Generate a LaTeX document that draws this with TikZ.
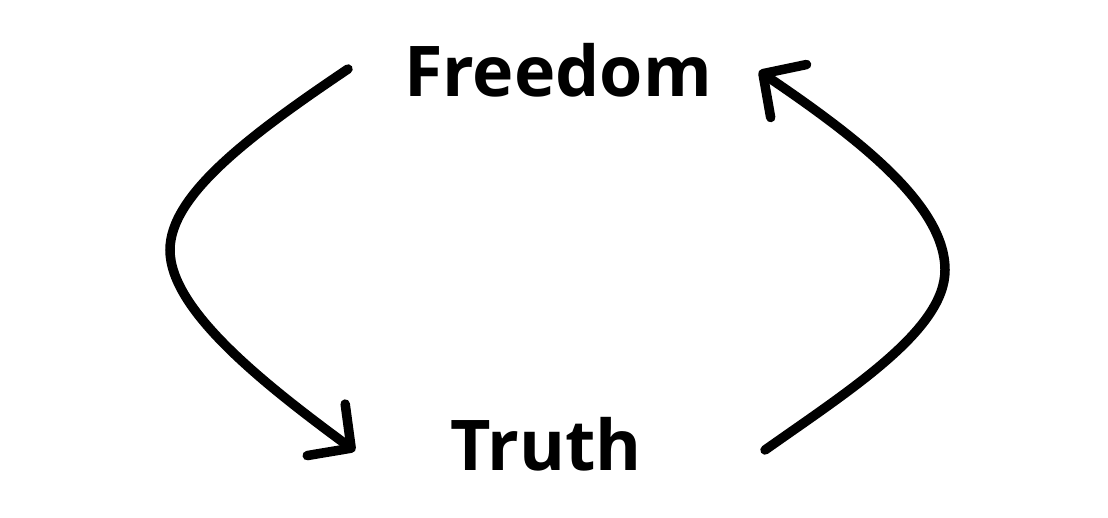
\documentclass[tikz,border=0pt]{standalone}
\usepackage{fontspec}
\setmainfont{Open Sans}
\usetikzlibrary{arrows.meta}
\begin{document}
\begin{tikzpicture}[x=1pt,y=-1pt,
  word/.style={font=\fontsize{70}{84}\selectfont\bfseries, inner sep=0pt, anchor=base},
  loop/.style={line width=9.5pt, line cap=round, -{Straight Barb[length=31pt,width=64pt,round]}}]
\useasboundingbox[fill=white] (0,0) rectangle (1108,518);
\node[word] (freedom) at (558,96.7) {Freedom};
\node[word] (truth) at (546,470) {Truth};
\coordinate (ls) at (348,69);
\coordinate (le) at (355,451);
\coordinate (rs) at (765,450);
\coordinate (re) at (759,71);
\draw[loop] (ls) .. controls (250,135) and (170,195) .. (170,250)
  .. controls (170,310) and (264,384) .. (le);
\draw[loop] (rs) .. controls (850,390) and (945,330) .. (945,270)
  .. controls (945,205) and (858,138) .. (re);
\end{tikzpicture}
\end{document}
